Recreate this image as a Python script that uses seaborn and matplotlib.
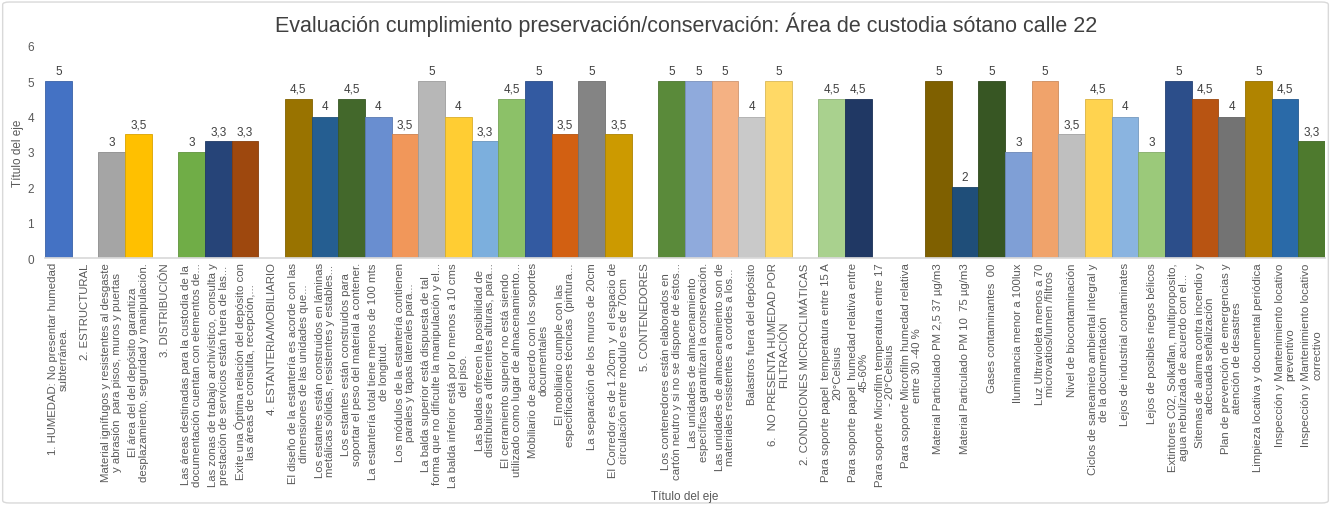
import numpy as np
import pandas as pd
import seaborn as sns
import matplotlib
matplotlib.use("Agg")
import matplotlib.pyplot as plt
from matplotlib.patches import FancyBboxPatch

categorias = [
    "1. HUMEDAD: No presentar humedad\nsubterránea.",
    "2. ESTRUCTURAL",
    "Material ignífugos y resistentes al desgaste\ny abrasión  para pisos, muros y puertas",
    "El área del del depósito garantiza\ndesplazamiento, seguridad y manipulación.",
    "3. DISTRIBUCIÓN",
    "Las áreas destinadas para la custodia de la\ndocumentación cuentan con elementos de...",
    "Las zonas de trabajo archivístico, consulta y\nprestación de servicios están fuera de las...",
    "Exite una Óptima relación del depósito con\nlas áreas de consulta, recepción,...",
    "4. ESTANTERIA/MOBILIARIO",
    "El diseño de la estantería es acorde con las\ndimensiones de las unidades que...",
    "Los estantes están construidos en láminas\nmetálicas sólidas, resistentes y estables...",
    "Los estantes están construidos para\nsoportar el peso del material a contener.",
    "La estantería total tiene menos de 100 mts\nde longitud.",
    "Los módulos de la estantería contienen\nparales y tapas laterales para...",
    "La balda superior está dispuesta de tal\nforma que no dificulte la manipulación y el...",
    "La balda inferior está por lo menos a 10 cms\ndel piso.",
    "Las baldas ofrecen la posibilidad de\ndistribuirse a diferentes alturas, para...",
    "El cerramiento superior no está siendo\nutilizado como lugar de almacenamiento...",
    "Mobiliario de acuerdo con los soportes\ndocumentales",
    "El mobiliario cumple con las\nespecificaciones técnicas  (pintura...",
    "La separación de los muros de 20cm",
    "El Corredor es de 1.20cm  y  el espacio de\ncirculación entre modulo es de 70cm",
    "5. CONTENEDORES",
    "Los contenedores están elaborados en\ncartón neutro y si no se dispone de éstos...",
    "Las unidades de almacenamiento\nespecíficas garantizan la conservación.",
    "Las unidades de almacenamiento son de\nmateriales resistentes  a cordes a los...",
    "Balastros fuera del depósito",
    "6.  NO PRESENTA HUMEDAD POR\nFILTRACIÓN",
    "2. CONDICIONES MICROCLIMÁTICAS",
    "Para soporte papel  temperatura entre 15 A\n20°Celsius",
    "Para soporte papel  humedad relativa entre\n45-60%",
    "Para soporte Microfilm temperatura entre 17\n- 20°Celsius",
    "Para soporte Microfilm humedad relativa\nentre 30 -40 %",
    "Material Particulado PM 2,5 37 µg/m3",
    "Material Particulado PM 10  75 µg/m3",
    "Gases contaminantes  00",
    "Iluminancia menor a 100lux",
    "Luz Ultravioleta menos a 70\nmicrovatios/lumen /filtros",
    "Nivel de biocontaminación",
    "Ciclos de saneamieto ambiental integral y\nde la documentación",
    "Lejos de industrial contaminates",
    "Lejos de posibles riegos bélicos",
    "Extintores C02, Solkaflan, multiproposito,\nagua nebulizada de acuerdo con el...",
    "Sitemas de alarma contra incendio y\nadecuada señalización",
    "Plan de prevención de emergencias y\natención de desastres",
    "Limpieza locativa y documental periódica",
    "Inspección y Mantenimiento locativo\npreventivo",
    "Inspección y Mantenimiento locativo\ncorrectivo",
]

nan = np.nan
puntajes = [
    5, nan, 3, 3.5, nan, 3, 3.3, 3.3, nan,
    4.5, 4, 4.5, 4, 3.5, 5, 4, 3.3, 4.5, 5, 3.5, 5, 3.5,
    nan, 5, 5, 5, 4, 5,
    nan, 4.5, 4.5, nan, nan,
    5, 2, 5, 3, 5, 3.5, 4.5, 4, 3, 5, 4.5, 4, 5, 4.5, 3.3,
]

colores = [
    "#4472C4", "#ED7D31", "#A5A5A5", "#FFC000", "#5B9BD5", "#70AD47",
    "#264478", "#9E480E", "#636363", "#997300", "#255E91", "#43682B",
    "#698ED0", "#F1975A", "#B7B7B7", "#FFCD33", "#7CAFDD", "#8CC168",
    "#335AA1", "#D26012", "#848484", "#CC9A00", "#5B9BD5", "#5A8A3A",
    "#8FAADC", "#F4B183", "#C9C9C9", "#FFD966", "#9DC3E6", "#A9D18E",
    "#203864", "#636363", "#997300", "#7F6000", "#1F4E79", "#375623",
    "#7F9FD6", "#F0A36B", "#BFBFBF", "#FFD34F", "#8AB4E0", "#9BC97A",
    "#2C4E8A", "#B85412", "#737373", "#B08400", "#2A6AA8", "#4E7A2E",
]

titulo = "Evaluación cumplimiento preservación/conservación: Área de custodia sótano calle 22"
eje = "Título del eje"

sns.set_theme(style="white")
plt.rcParams["font.family"] = ["Liberation Sans", "DejaVu Sans"]

df = pd.DataFrame({"categoria": categorias, "puntaje": puntajes})

fig = plt.figure(figsize=(13.31, 5.06), dpi=100)
ax = fig.add_axes([45 / 1331, 247 / 506, 1280 / 1331, 212 / 506])

sns.barplot(
    data=df, x="categoria", y="puntaje", hue="categoria",
    order=categorias, hue_order=categorias, palette=colores,
    width=1.0, legend=False, ax=ax, saturation=1, linewidth=0.6,
)

# darker outline of each bar in its own hue
for bar in ax.patches:
    fc = np.array(bar.get_facecolor())
    bar.set_edgecolor(tuple(fc[:3] * 0.85) + (1,))

def etiqueta(v):
    return ("%g" % v).replace(".", ",")

for cont in ax.containers:
    vals = [b.get_height() for b in cont]
    labels = [etiqueta(v) if np.isfinite(v) else "" for v in vals]
    ax.bar_label(cont, labels=labels, padding=3, fontsize=8.5, color="#404040")

ax.set_xlim(-0.5, len(categorias) - 0.5)
ax.set_ylim(0, 6)
ax.set_yticks(range(0, 7))
ax.tick_params(axis="y", length=0, pad=8, labelsize=8.5, labelcolor="#595959")
ax.tick_params(axis="x", length=0, pad=3)
ax.set_xticks(range(len(categorias)))
ax.set_xticklabels(categorias, rotation=90, ha="center", va="top",
                   multialignment="center", fontsize=8.2, color="#595959",
                   linespacing=1.1)

ax.set_xlabel("")
ax.set_ylabel(eje, fontsize=8.5, color="#595959", labelpad=2)
fig.text(685 / 1331, 1 - 497 / 506, eje, ha="center", va="center",
         fontsize=8.5, color="#595959")

for s in ["left", "top", "right"]:
    ax.spines[s].set_visible(False)
ax.spines["bottom"].set_color("#D9D9D9")

fig.text(686 / 1331, 1 - 25 / 506, titulo, ha="center", va="center",
         fontsize=15.5, color="#404040")

borde = FancyBboxPatch((0.002, 0.004), 0.996, 0.99, boxstyle="round,pad=0,rounding_size=0.005",
                       transform=fig.transFigure, fill=False, edgecolor="#D9D9D9", linewidth=1)
fig.patches.append(borde)

fig.savefig("out.png", dpi=100)
